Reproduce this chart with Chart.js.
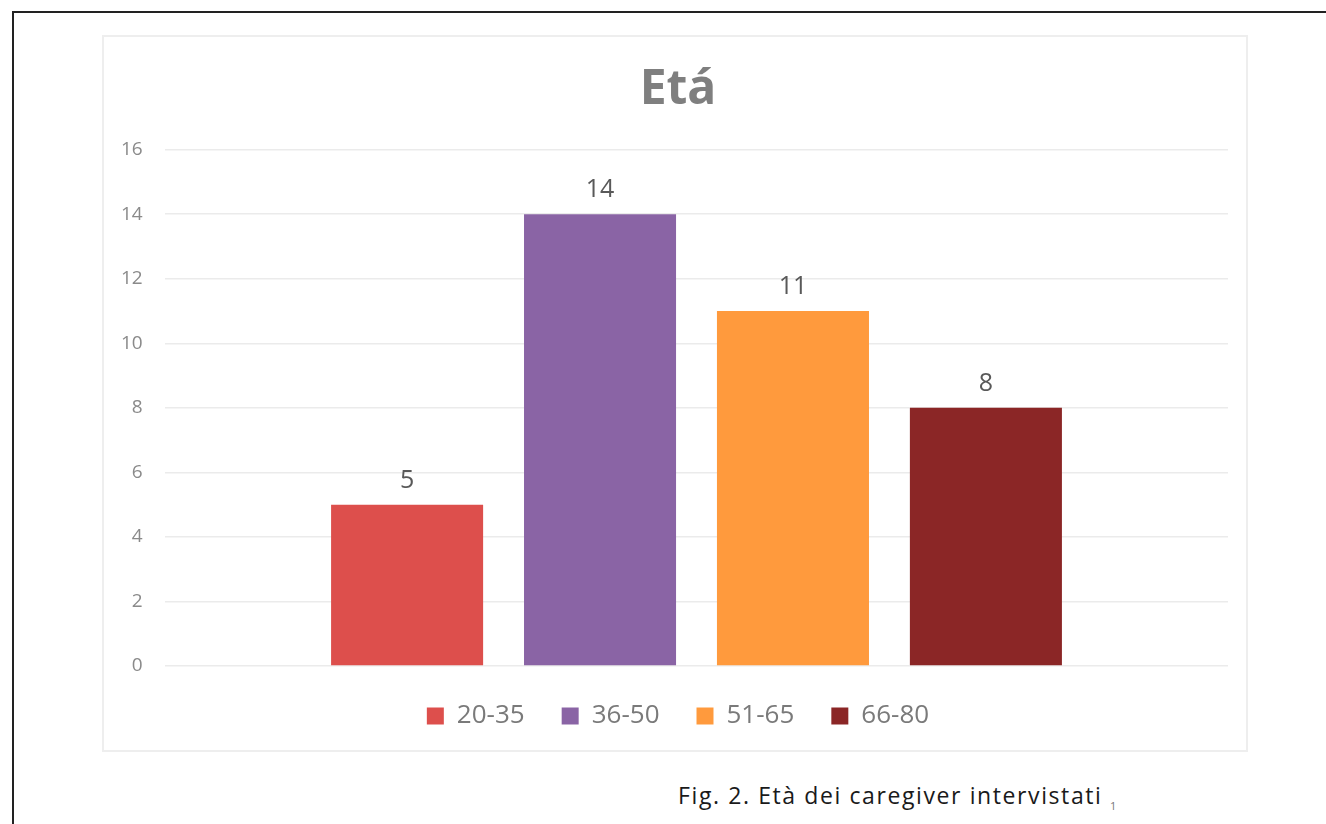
<!DOCTYPE html>
<html>
<head>
<meta charset="utf-8">
<script src="https://cdn.jsdelivr.net/npm/chart.js@4"></script>
<style>
  body { margin: 0; background: #fff; width: 1326px; height: 824px; overflow: hidden; position: relative; }
  #frame { position: absolute; left: 12px; top: 11px; width: 1400px; height: 900px; border-top: 2px solid #222; border-left: 2px solid #222; }
  #box { position: absolute; left: 102px; top: 35px; width: 1146px; height: 717px; border: 2px solid #eeeeee; box-sizing: border-box; }
  #chart { position: absolute; left: 104px; top: 37px; }
  #caption { position: absolute; left: 678px; top: 779px; font-family: "Open Sans", sans-serif; font-size: 23px; letter-spacing: 1.6px; color: #1a1a1a; white-space: nowrap; }
  #caption sub { font-size: 11px; color: #777; }
</style>
</head>
<body>
<div id="frame"></div>
<div id="box"></div>
<canvas id="chart" width="1142" height="713"></canvas>
<div id="caption">Fig. 2. Età dei caregiver intervistati <sub>1</sub></div>
<script>
// age groups and how many caregivers fall in each
const ageGroups = ['20-35', '36-50', '51-65', '66-80'];
const counts = [5, 14, 11, 8];
const barColors = ['#dd4f4c', '#8a64a5', '#ff9a3d', '#8b2626'];
const yMax = 16;
const yStep = 2;

// writes the count above each bar
const barLabels = {
    id: 'barLabels',
    afterDatasetsDraw(chart) {
        const ctx = chart.ctx;
        ctx.save();
        ctx.font = '25px "Open Sans", sans-serif';
        ctx.fillStyle = '#595959';
        ctx.textAlign = 'center';
        ctx.textBaseline = 'alphabetic';
        chart.data.datasets.forEach((ds, i) => {
            const bar = chart.getDatasetMeta(i).data[0];
            ctx.fillText(String(ds.data[0]), bar.x, bar.y - 17);
        });
        ctx.restore();
    }
};

new Chart(document.getElementById('chart'), {
    type: 'bar',
    data: {
        labels: ['Età'],
        datasets: ageGroups.map((g, i) => ({
            label: g,
            data: [counts[i]],
            backgroundColor: barColors[i],
            borderWidth: 0,
            categoryPercentage: 0.726,
            barPercentage: 0.788
        }))
    },
    options: {
        responsive: false,
        animation: false,
        layout: { padding: { left: 24, right: 18, top: 0, bottom: 11 } },
        scales: {
            x: { display: false },
            y: {
                min: 0,
                max: yMax,
                ticks: {
                    stepSize: yStep,
                    // mirrored so the labels are not clipped to the narrow axis box
                    mirror: true,
                    crossAlign: 'far',
                    padding: -44,
                    color: '#8a8a8a',
                    font: { family: '"Open Sans", sans-serif', size: 19 }
                },
                grid: { color: '#ebebeb', lineWidth: 1.5, drawTicks: false },
                border: { display: false },
                afterFit(scale) { scale.width = 37; }
            }
        },
        plugins: {
            title: {
                display: true,
                text: 'Etá',
                color: '#7f7f7f',
                font: { family: '"Open Sans", sans-serif', size: 48, weight: 'bold' },
                padding: { top: 25, bottom: 30 }
            },
            legend: {
                position: 'bottom',
                labels: {
                    boxWidth: 17,
                    boxHeight: 17,
                    padding: 37,
                    color: '#7a7a7a',
                    font: { family: '"Open Sans", sans-serif', size: 26 }
                }
            },
            tooltip: { enabled: false }
        }
    },
    plugins: [barLabels]
});
</script>
</body>
</html>
